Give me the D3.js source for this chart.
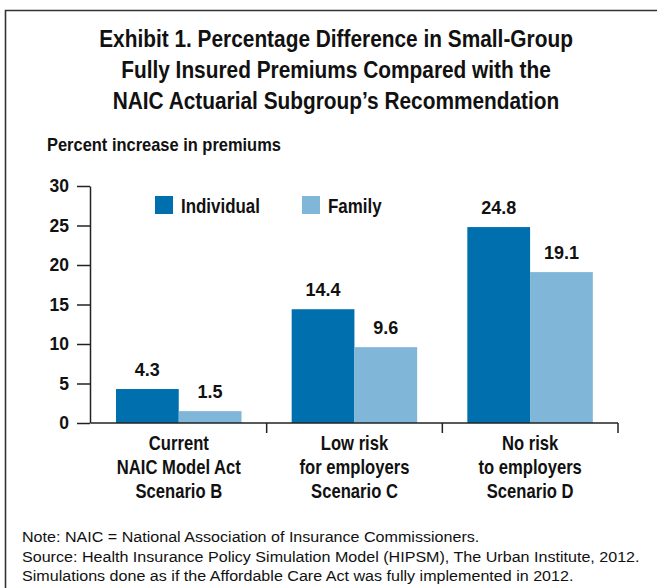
<!DOCTYPE html>
<html><head><meta charset="utf-8">
<script src="https://cdn.jsdelivr.net/npm/d3@7"></script>
<style>
body{margin:0;background:#fff;}
svg{display:block;}
text{font-family:"Liberation Sans",Arial,sans-serif;}
</style></head>
<body>
<script>
const categories = [
  ["Current","NAIC Model Act","Scenario B"],
  ["Low risk","for employers","Scenario C"],
  ["No risk","to employers","Scenario D"]
];
const seriesNames = ["Individual","Family"];
const individualValues = [4.3, 14.4, 24.8];
const familyValues = [1.5, 9.6, 19.1];
const yTicks = [0,5,10,15,20,25,30];
const titleLines = [
  "Exhibit 1. Percentage Difference in Small-Group",
  "Fully Insured Premiums Compared with the",
  "NAIC Actuarial Subgroup\u2019s Recommendation"
];
const yAxisTitle = "Percent increase in premiums";
const notes = [
  "Note: NAIC = National Association of Insurance Commissioners.",
  "Source: Health Insurance Policy Simulation Model (HIPSM), The Urban Institute, 2012.",
  "Simulations done as if the Affordable Care Act was fully implemented in 2012."
];
const colors = ["#006FAE","#80B6D7"];

const W=657,H=588;
const svg=d3.select("body").append("svg").attr("width",W).attr("height",H);

// measure helper: width of a string at given font settings
function measure(str,size,weight){
  const t=svg.append("text").attr("font-size",size).attr("font-weight",weight).text(str);
  const w=t.node().getComputedTextLength(); t.remove(); return w;
}

// frame
svg.append("path").attr("d",`M5.5,${H} V10.5 H${W}`).attr("fill","none").attr("stroke","#333").attr("stroke-width",1.6);

// title (condensed look via horizontal scale)
const tSize=24, tSx=474/measure(titleLines[0],tSize,"bold");
svg.append("g").selectAll("text").data(titleLines).join("text")
  .attr("transform",(d,i)=>`translate(336,${47+i*31}) scale(${tSx},1)`)
  .attr("text-anchor","middle").attr("font-size",tSize).attr("font-weight","bold").attr("fill","#111")
  .text(d=>d);

const aSx=234/measure(yAxisTitle,18,"bold");
svg.append("text").attr("transform",`translate(47,151) scale(${aSx},1)`)
  .attr("font-size",18).attr("font-weight","bold").attr("fill","#111").text(yAxisTitle);

const x0=d3.scaleBand().domain(d3.range(categories.length)).range([91,618]);
const x1=d3.scaleBand().domain(seriesNames).range([25,150.5]);
const y=d3.scaleLinear().domain([0,30]).range([423,186]);

// y axis
const ya=svg.append("g").attr("transform","translate(90,0)")
  .call(d3.axisLeft(y).tickValues(yTicks).tickSize(13).tickPadding(8).tickSizeOuter(0));
ya.select(".domain").attr("stroke","#222").attr("stroke-width",1.5);
ya.selectAll(".tick line").attr("stroke","#222").attr("stroke-width",1.5);
ya.selectAll(".tick text").attr("font-family","Liberation Sans").attr("font-size",17.5).attr("font-weight","bold").attr("fill","#111");

// bars
const data=categories.map((c,i)=>({i,vals:[individualValues[i],familyValues[i]]}));
const groups=svg.append("g").selectAll("g").data(data).join("g")
  .attr("transform",d=>`translate(${x0(d.i)},0)`);
groups.selectAll("rect").data(d=>d.vals.map((v,k)=>({k,v}))).join("rect")
  .attr("x",d=>x1(seriesNames[d.k])).attr("width",x1.bandwidth())
  .attr("y",d=>y(d.v)).attr("height",d=>y(0)-y(d.v))
  .attr("fill",d=>colors[d.k]);
groups.selectAll("text").data(d=>d.vals.map((v,k)=>({k,v}))).join("text")
  .attr("x",d=>x1(seriesNames[d.k])+x1.bandwidth()/2).attr("y",d=>y(d.v)-13)
  .attr("text-anchor","middle").attr("font-size",18).attr("font-weight","bold").attr("fill","#111")
  .text(d=>d.v.toFixed(1));

// x axis
const xa=svg.append("g").attr("transform","translate(0,423)");
xa.append("line").attr("x1",91).attr("x2",618).attr("stroke","#222").attr("stroke-width",1.5);
xa.selectAll("line.tk").data(d3.range(categories.length)).join("line").attr("class","tk")
  .attr("x1",d=>x0(d)+x0.bandwidth()).attr("x2",d=>x0(d)+x0.bandwidth())
  .attr("y1",0).attr("y2",10).attr("stroke","#222").attr("stroke-width",1.5);
const cSize=19.5, cSx=124/measure(categories[0][1],cSize,"bold");
const cl=xa.selectAll("text").data(categories.map((c,i)=>({c,i}))).join("text")
  .attr("text-anchor","middle").attr("font-size",cSize).attr("font-weight","bold").attr("fill","#111")
  .attr("transform",d=>`translate(${x0(d.i)+x0.bandwidth()/2},27) scale(${cSx},1)`);
cl.selectAll("tspan").data(d=>d.c).join("tspan").attr("x",0).attr("dy",(d,j)=>j?24:0).text(d=>d);

// legend
const lg=svg.append("g");
const lx=[155,302];
const lSize=21, lSx=79/measure(seriesNames[0],lSize,"bold");
seriesNames.forEach((s,k)=>{
  lg.append("rect").attr("x",lx[k]).attr("y",196).attr("width",18).attr("height",18).attr("fill",colors[k]);
  lg.append("text").attr("transform",`translate(${lx[k]+26},213) scale(${lSx},1)`)
    .attr("font-size",lSize).attr("font-weight","bold").attr("fill","#111").text(s);
});

// notes
const nSx=618/measure(notes[1],15,"normal");
svg.append("g").selectAll("text").data(notes).join("text")
  .attr("transform",(d,i)=>`translate(22,${542+i*19.5}) scale(${nSx},1)`)
  .attr("font-size",15).attr("fill","#111").text(d=>d);
</script>
</body></html>
